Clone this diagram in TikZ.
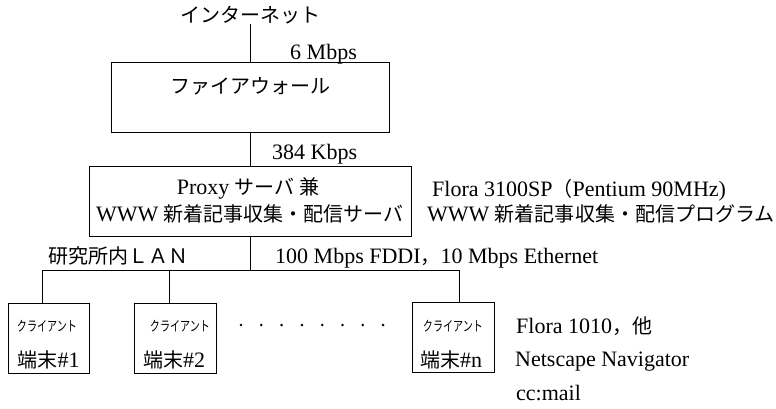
\documentclass[tikz,border=0pt]{standalone}
\usepackage{fontspec}
\usepackage{graphicx}
\setmainfont{Liberation Serif}[Scale=1.1]
\newfontfamily\jpfont{Noto Sans CJK JP}
\newcommand{\jtxt}[1]{{\jpfont #1}}
\newcommand{\kanasmall}[1]{{\fontsize{14}{14}\selectfont\jpfont\scalebox{0.72}[1]{#1}}}
\tikzset{
  txt/.style={inner sep=0pt, font=\fontsize{20}{24}\selectfont},
  box/.style={draw, line width=0.9pt, inner sep=0pt},
  conn/.style={line width=0.9pt},
}
\begin{document}
\begin{tikzpicture}[x=1pt,y=-1pt]
\useasboundingbox (0,0) rectangle (776,408);
% internet and firewall
\node[txt, anchor=base] (inet) at (250,22.5) {\jtxt{インターネット}};
\node[txt, anchor=base west] (r6) at (290,59) {6 Mbps};
\node[box, minimum width=278pt, minimum height=70pt] (fw) at (250,97) {};
\node[txt, anchor=base] (fwt) at (250,93.5) {\jtxt{ファイアウォール}};
\draw[conn] (inet.south) -- (fw.north);
% proxy
\node[txt, anchor=base west] (r384) at (272,159.5) {384 Kbps};
\node[box, minimum width=322pt, minimum height=70pt] (px) at (250,201) {};
\node[txt, anchor=base] (pxa) at (248,194.5) {Proxy \jtxt{サーバ 兼}};
\node[txt, anchor=base] (pxb) at (250,221.5) {WWW \jtxt{新着記事収集・配信サーバ}};
\draw[conn] (fw.south) -- (px.north);
\node[txt, anchor=base west] (fl1) at (432,196.5) {Flora 3100SP\jtxt{（}Pentium 90MHz)};
\node[txt, anchor=base west] (fl2) at (427,221.5) {WWW \jtxt{新着記事収集・配信プログラム}};
% LAN
\coordinate (lanM) at (250,270);
\coordinate (d1) at (42,270);
\coordinate (d2) at (169,270);
\coordinate (dn) at (459,270);
\draw[conn] (px.south) -- (lanM);
\draw[conn] (d1) -- (dn);
\node[txt, anchor=base west] (lanl) at (48,263.5) {\jtxt{研究所内ＬＡＮ}};
\node[txt, anchor=base west] (lanr) at (275,263.5) {100 Mbps FDDI\jtxt{，}10 Mbps Ethernet};
% clients
\node[box, minimum width=81pt, minimum height=70pt] (c1) at (48.5,338) {};
\node[box, minimum width=82pt, minimum height=70pt] (c2) at (175,338) {};
\node[box, minimum width=82pt, minimum height=70pt] (cn) at (453,337.5) {};
\draw[conn] (d1) -- (d1 |- c1.north);
\draw[conn] (d2) -- (d2 |- c2.north);
\draw[conn] (dn) -- (dn |- cn.north);
\node[txt, anchor=base] (c1a) at (47,331) {\kanasmall{クライアント}};
\node[txt, anchor=base] (c1b) at (48.5,367.5) {\jtxt{端末}\#1};
\node[txt, anchor=base] (c2a) at (180,331) {\kanasmall{クライアント}};
\node[txt, anchor=base] (c2b) at (174,367.5) {\jtxt{端末}\#2};
\node[txt, anchor=base] (cna) at (453,331) {\kanasmall{クライアント}};
\node[txt, anchor=base] (cnb) at (451,367.5) {\jtxt{端末}\#n};
\foreach \i in {0,...,7} \fill ({241+20.3*\i},325) circle (1.4pt);
\node[txt, anchor=base west] (fl3) at (516,333) {Flora 1010\jtxt{，他}};
\node[txt, anchor=base west] (ns) at (515,366) {Netscape Navigator};
\node[txt, anchor=base west] (cc) at (516,400) {cc:mail};
\end{tikzpicture}
\end{document}
